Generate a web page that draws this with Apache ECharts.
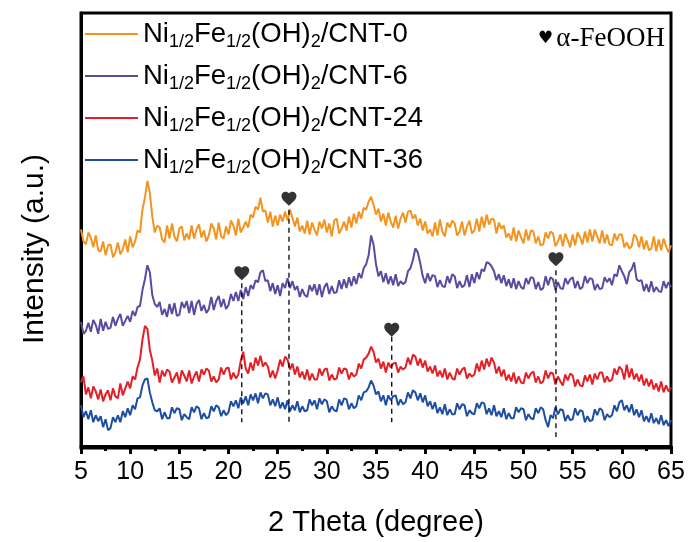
<!DOCTYPE html>
<html>
<head>
<meta charset="utf-8">
<script src="https://cdn.jsdelivr.net/npm/echarts@6/dist/echarts.min.js"></script>
<style>
html, body { margin: 0; padding: 0; background: #fff; }
#chart { width: 692px; height: 542px; }
</style>
</head>
<body>
<div id="chart"></div>
<script>
// 2θ sampling grid: 5° to 65° in 0.25° steps
const THETA_START = 5;
const THETA_STEP = 0.25;

// Stacked XRD intensities (a.u.), one value per grid point
const cnt0 = [
  218,206,203,215, 210,200,212,197, 196,206,192,202, 203,190,195,205, 193,198,208,195,
  211,200,206,217, 215,238,250,267, 255,231,215,222, 220,208,205,222, 209,224,211,206,
  219,221,207,214, 208,222,209,218, 223,210,217,206, 212,224,219,208, 225,211,209,221,
  213,227,222,212, 229,215,220,226, 220,233,230,241, 238,250,236,237, 225,236,221,232,
  222,233,226,236, 227,238,230,221, 230,216,222,214, 227,213,225,218, 212,226,219,228,
  215,224,211,227, 229,214,219,226, 217,231,220,234, 224,236,229,240, 238,246,251,243,
  233,239,226,234, 222,235,226,220, 232,219,229,235, 225,236,237,229, 233,222,229,217,
  226,214,218,211, 225,212,228,216, 211,225,220,227, 224,212,216,226, 212,221,227,214,
  217,229,216,231, 220,233,223,229, 228,214,225,219, 222,210,214,207, 220,206,217,210,
  204,218,207,217, 216,204,211,202, 203,215,209,216, 214,201,206,213, 201,214,207,200,
  213,202,215,210, 203,216,205,218, 206,218,211,204, 217,204,213,203, 202,214,207,213,
  213,200,205,199, 201,213,210,200, 211,198,207,197, 199,211,196,208, 197,209,201,195,
  202
];
const cnt6 = [
  125,113,116,124, 115,127,122,113, 128,116,125,118, 119,130,121,128, 133,121,126,131,
  125,136,131,140, 141,157,168,182, 175,152,143,140, 145,132,138,130, 143,133,144,131,
  132,145,139,146, 134,146,132,143, 147,136,142,134, 138,150,137,146, 151,140,148,138,
  142,153,146,155, 146,157,148,160, 151,162,158,167, 165,175,177,166, 167,156,164,153,
  162,151,164,159, 169,159,166,157, 161,150,158,152, 150,162,156,163, 152,163,150,160,
  164,153,161,154, 155,167,158,168, 159,170,161,171, 163,174,169,179, 183,192,212,203,
  183,171,176,165, 174,163,171,162, 173,161,166,163, 165,176,179,187, 199,195,184,171,
  164,174,166,172, 171,160,167,161, 160,171,164,173, 171,159,166,160, 162,172,160,173,
  164,175,168,178, 176,185,184,181, 176,167,173,164, 172,161,168,159, 169,158,166,160,
  158,169,163,170, 169,158,165,157, 159,171,162,170, 168,157,165,159, 158,169,163,168,
  170,159,166,158, 160,171,164,169, 168,157,163,158, 159,170,165,169, 162,173,171,182,
  176,171,163,175, 178,185,168,166, 167,156,163,155, 166,155,160,156, 155,166,159,165,
  160
];
const cnt24 = [
  64,70,52,59, 48,60,55,47, 57,45,52,56, 46,58,50,48, 63,51,58,65,
  58,70,67,79, 87,107,121,118, 97,86,71,78, 64,76,70,77, 75,64,69,74,
  63,76,71,65, 76,63,70,75, 65,77,72,78, 76,65,70,64, 67,79,72,78,
  79,67,74,68, 72,86,95,78, 73,84,76,89, 81,91,80,84, 80,69,76,68,
  76,87,80,90, 87,77,83,72, 80,69,75,67, 77,66,73,67, 67,78,71,77,
  78,66,72,67, 68,79,73,78, 77,67,74,70, 72,83,78,87, 89,93,100,95,
  84,88,78,85, 74,84,79,83, 84,74,80,77, 79,89,82,92, 90,81,88,79,
  86,75,80,73, 81,70,76,69, 78,67,74,68, 67,78,72,77, 79,68,73,70,
  72,83,75,86, 77,88,80,89, 84,73,80,70, 77,66,72,65, 74,63,70,64,
  63,74,68,73, 75,64,70,63, 65,76,68,74, 73,62,70,65, 61,72,66,73,
  71,60,67,61, 60,71,65,72, 62,73,67,74, 74,64,70,65, 67,78,72,80,
  77,67,82,69, 78,67,73,65, 72,61,68,60, 67,57,63,55, 65,54,61,55,
  59
];
const cnt36 = [
  41,29,35,27, 36,24,31,25, 30,19,27,16, 18,29,24,31, 24,35,29,38,
  31,41,37,48, 49,61,67,68, 54,44,36,35, 38,27,34,28, 28,39,33,38,
  37,26,32,29, 27,39,34,40, 38,27,33,28, 29,40,35,41, 39,30,36,31,
  34,45,40,46, 38,49,43,50, 41,52,46,53, 43,54,48,53, 52,41,47,40,
  49,38,44,37, 46,35,41,36, 45,34,40,35, 36,47,41,46, 37,48,42,47,
  45,34,40,36, 35,47,41,48, 47,37,43,38, 40,51,46,54, 55,59,66,61,
  52,55,45,51, 41,51,46,50, 51,41,47,42, 44,54,48,56, 54,46,53,44,
  51,40,45,37, 44,33,39,32, 42,31,37,32, 32,43,37,42, 41,30,36,33,
  32,43,38,44, 43,32,38,31, 41,30,35,29, 38,27,33,28, 28,39,34,38,
  37,26,32,28, 27,38,33,39, 37,26,19,31, 28,39,32,37, 36,25,31,26,
  27,38,31,36, 35,24,30,25, 26,37,31,38, 36,26,32,29, 31,41,35,44,
  46,36,41,34, 42,31,37,29, 36,25,30,24, 33,23,28,22, 31,21,26,20,
  26
];

const seriesNames = ['CNT-0', 'CNT-6', 'CNT-24', 'CNT-36'];
const seriesColors = ['#F39420', '#5B4A9F', '#E41F26', '#1E4EA1'];
const seriesValues = [cnt0, cnt6, cnt24, cnt36];

// α-FeOOH reflections: 2θ position, heart height, dashed guide top and bottom
const feoohTheta  = [26.15, 21.35, 36.6, 53.3];
const feoohHeart  = [249, 174, 117, 188];
const feoohTop    = [238, 164, 110, 177];
const feoohBottom = [22, 24, 24, 9];

const theta = cnt0.map((_, i) => THETA_START + i * THETA_STEP);

const heartPath = 'path://M12 21.6L10.6 20.3C5.4 15.6 2 12.5 2 8.6C2 5.5 4.4 3 7.5 3C9.2 3 10.9 3.8 12 5.1C13.1 3.8 14.8 3 16.5 3C19.6 3 22 5.5 22 8.6C22 12.5 18.6 15.6 13.4 20.3Z';

const SANS = 'Liberation Sans, Arial, sans-serif';
const SERIF = 'Liberation Serif, Times New Roman, serif';

const series = [];
seriesNames.forEach((name, k) => {
  series.push({
    name: name,
    type: 'line',
    data: theta.map((t, i) => [t, seriesValues[k][i]]),
    showSymbol: false,
    symbol: 'none',
    lineStyle: { color: seriesColors[k], width: 2 },
    itemStyle: { color: seriesColors[k] },
    z: 3 + (3 - k)
  });
});
feoohTheta.forEach((t, k) => {
  series.push({
    type: 'line',
    data: [[t, feoohTop[k]], [t, feoohBottom[k]]],
    showSymbol: false,
    symbol: 'none',
    lineStyle: { color: '#000', width: 1.3, type: [5, 4] },
    z: 10,
    silent: true
  });
});
series.push({
  type: 'scatter',
  data: feoohTheta.map((t, k) => [t, feoohHeart[k]]),
  symbol: heartPath,
  symbolSize: [15, 14],
  itemStyle: { color: '#000' },
  z: 11,
  silent: true
});

const chart = echarts.init(document.getElementById('chart'), null, { renderer: 'canvas' });
chart.setOption({
  animation: false,
  backgroundColor: '#fff',
  grid: { left: 81, right: 21, top: 13, bottom: 91, show: true, borderColor: '#000', borderWidth: 3 },
  legend: {
    data: seriesNames,
    orient: 'vertical',
    left: 85,
    top: 20,
    padding: 0,
    itemGap: 11,
    itemWidth: 53,
    itemHeight: 2,
    icon: 'rect',
    selectedMode: false,
    formatter: name => '{m|Ni}{s|1/2}{m|Fe}{s|1/2}{m|(OH)}{s|2}{m|/' + name + '}',
    textStyle: {
      color: '#000',
      fontFamily: SANS,
      fontSize: 27,
      rich: {
        m: { fontSize: 27.5, fontFamily: SANS, color: '#000' },
        s: { fontSize: 18, fontFamily: SANS, color: '#000', padding: [16, 0, 0, 0] }
      }
    }
  },
  xAxis: {
    type: 'value',
    min: 5,
    max: 65,
    interval: 5,
    name: '2 Theta (degree)',
    nameLocation: 'middle',
    nameGap: 60,
    nameTextStyle: { fontSize: 29, color: '#000', fontFamily: SANS },
    axisLine: { lineStyle: { color: '#000', width: 3 } },
    axisTick: { length: 8, lineStyle: { color: '#000', width: 3 } },
    minorTick: { show: true, splitNumber: 2, length: 5, lineStyle: { color: '#000', width: 3 } },
    minorSplitLine: { show: false },
    splitLine: { show: false },
    axisLabel: { fontSize: 25, color: '#000', margin: 12, fontFamily: SANS }
  },
  yAxis: {
    type: 'value',
    min: -2,
    max: 436,
    axisLine: { show: true, lineStyle: { color: '#000', width: 3 } },
    axisTick: { show: false },
    axisLabel: { show: false },
    splitLine: { show: false }
  },
  graphic: [
    {
      type: 'text',
      x: 35,
      y: 249,
      rotation: Math.PI / 2,
      style: {
        text: 'Intensity (a.u.)',
        fontSize: 30,
        fontFamily: SANS,
        fill: '#000',
        align: 'center',
        verticalAlign: 'middle'
      }
    },
    {
      type: 'text',
      x: 665,
      y: 39,
      style: {
        text: '{h|♥} {t|α-FeOOH}',
        align: 'right',
        verticalAlign: 'middle',
        rich: {
          h: { fontSize: 17, fontFamily: 'DejaVu Sans', fill: '#000' },
          t: { fontSize: 27, fontFamily: SERIF, fill: '#000' }
        }
      }
    }
  ],
  series: series
});
</script>
</body>
</html>
